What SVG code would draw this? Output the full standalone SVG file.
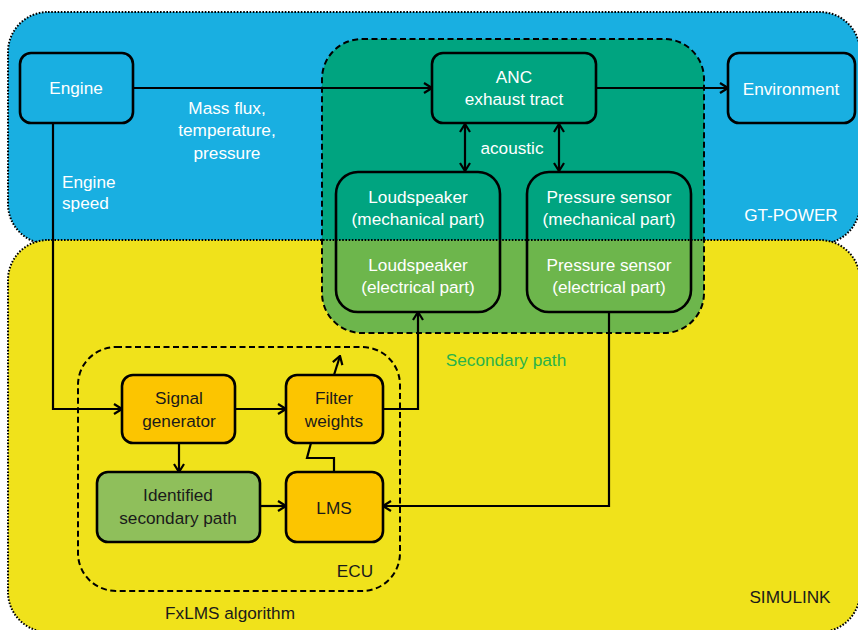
<svg xmlns="http://www.w3.org/2000/svg" width="858" height="630" viewBox="0 0 858 630">
<defs>
<style>
text{font-family:"Liberation Sans","DejaVu Sans",sans-serif;font-size:17.2px;text-anchor:middle}
.w{fill:#ffffff}
.k{fill:#1a1a1a}
.node{stroke:#000;stroke-width:2.6;fill:none}
.con{stroke:#000;stroke-width:2.2;fill:none}
.dot{stroke:#000;stroke-width:2;stroke-dasharray:1.6 1.6;}
.dash{stroke:#000;stroke-width:2;stroke-dasharray:6 3.5;fill:none}
</style>
<marker id="ah" viewBox="0 0 10 12" refX="9" refY="6" markerWidth="10" markerHeight="12" markerUnits="userSpaceOnUse" orient="auto-start-reverse">
<path d="M1,1 L9,6 L1,11" fill="none" stroke="#000" stroke-width="2.2"/>
</marker>
<clipPath id="top"><rect x="0" y="0" width="858" height="240"/></clipPath>
<clipPath id="bot"><rect x="0" y="240" width="858" height="400"/></clipPath>
</defs>

<g id="gt-power">
<rect x="8" y="12" width="852" height="232" rx="40" fill="#19afe1" class="dot"/>
<text x="791" y="221" class="w">GT-POWER</text>
</g>
<g id="simulink">
<rect x="8" y="240" width="852" height="392" rx="40" fill="#f0e21b" class="dot"/>
<text x="790" y="603" class="k">SIMULINK</text>
</g>

<g id="secondary-path">
<rect x="322" y="39" width="382" height="294" rx="40" fill="#00a480" clip-path="url(#top)"/>
<rect x="322" y="39" width="382" height="294" rx="40" fill="#6db64c" clip-path="url(#bot)"/>
<line x1="323" y1="240" x2="703" y2="240" class="dot"/>
<rect x="322" y="39" width="382" height="294" rx="40" class="dash"/>
<text x="506" y="366" style="fill:#2ab24a">Secondary path</text>
</g>

<g id="ecu">
<rect x="78" y="347" width="322" height="244" rx="38" fill="#fcc500" class="dash"/>
<text x="355" y="577" class="k">ECU</text>
</g>
<text id="fxlms-label" x="230" y="619" class="k">FxLMS algorithm</text>

<g id="engine">
<rect x="20" y="53" width="113" height="70" rx="11" class="node"/>
<text x="76" y="94" class="w">Engine</text>
</g>
<g id="anc">
<rect x="432" y="53" width="164" height="70" rx="11" class="node"/>
<text x="514" y="83" class="w">ANC</text>
<text x="514" y="105" class="w">exhaust tract</text>
</g>
<g id="environment">
<rect x="728" y="53" width="127" height="70" rx="11" class="node"/>
<text x="791" y="95" class="w">Environment</text>
</g>
<g id="loudspeaker">
<rect x="336" y="172" width="164" height="140" rx="22" class="node"/>
<text x="418" y="203" class="w">Loudspeaker</text>
<text x="418" y="225" class="w">(mechanical part)</text>
<text x="418" y="271" class="w">Loudspeaker</text>
<text x="418" y="293" class="w">(electrical part)</text>
</g>
<g id="pressure-sensor">
<rect x="527" y="172" width="164" height="140" rx="22" class="node"/>
<text x="609" y="203" class="w">Pressure sensor</text>
<text x="609" y="225" class="w">(mechanical part)</text>
<text x="609" y="271" class="w">Pressure sensor</text>
<text x="609" y="293" class="w">(electrical part)</text>
</g>
<g id="signal-generator">
<rect x="122" y="375" width="113" height="68" rx="11" class="node" style="fill:#fcc500"/>
<text x="179" y="404" class="k">Signal</text>
<text x="179" y="427" class="k">generator</text>
</g>
<g id="filter-weights">
<rect x="286" y="375" width="97" height="68" rx="11" class="node" style="fill:#fcc500"/>
<text x="334" y="404" class="k">Filter</text>
<text x="334" y="427" class="k">weights</text>
</g>
<g id="identified-secondary-path">
<rect x="97" y="472" width="163" height="70" rx="11" class="node" style="fill:#8fbf5b"/>
<text x="178" y="501" class="k">Identified</text>
<text x="178" y="524" class="k">secondary path</text>
</g>
<g id="lms">
<rect x="286" y="472" width="97" height="70" rx="11" class="node" style="fill:#fcc500"/>
<text x="334" y="514" class="k">LMS</text>
</g>

<g id="labels">
<text x="227" y="114" class="w">Mass flux,</text>
<text x="227" y="136" class="w">temperature,</text>
<text x="227" y="159" class="w">pressure</text>
<text x="62" y="188" class="w" style="text-anchor:start">Engine</text>
<text x="62" y="209" class="w" style="text-anchor:start">speed</text>
<text x="512" y="154" class="w">acoustic</text>
</g>

<g id="connectors">
<path d="M133,88 H432" class="con" marker-end="url(#ah)"/>
<path d="M596,88 H728" class="con" marker-end="url(#ah)"/>
<path d="M465,124 V171" class="con" marker-start="url(#ah)" marker-end="url(#ah)"/>
<path d="M559,124 V171" class="con" marker-start="url(#ah)" marker-end="url(#ah)"/>
<path d="M53,123 V409 H122" class="con" marker-end="url(#ah)"/>
<path d="M235,409 H286" class="con" marker-end="url(#ah)"/>
<path d="M383,409 H418 V312" class="con" marker-end="url(#ah)"/>
<path d="M334,375 L340,356" class="con" marker-end="url(#ah)"/>
<path d="M179,443 V472" class="con" marker-end="url(#ah)"/>
<path d="M260,506 H286" class="con" marker-end="url(#ah)"/>
<path d="M609,312 V506 H383" class="con" marker-end="url(#ah)"/>
<path d="M334,472 V458 H307 L311,443" class="con"/>
</g>
</svg>
